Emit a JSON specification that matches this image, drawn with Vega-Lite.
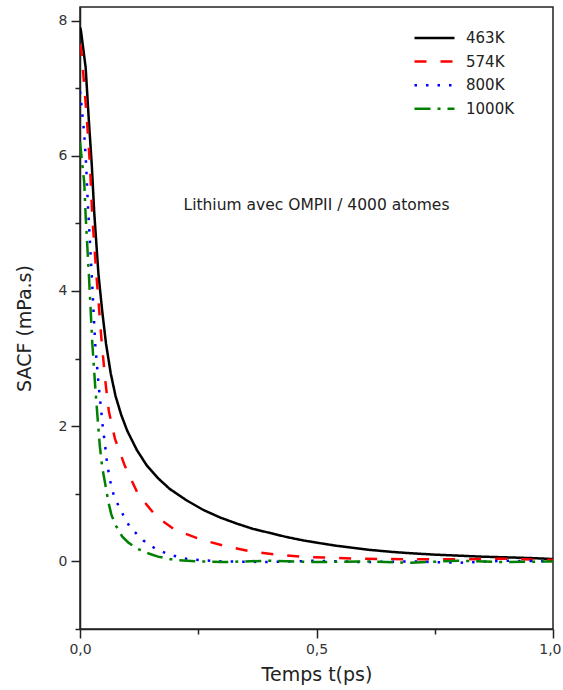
{
  "$schema": "https://vega.github.io/schema/vega-lite/v6.json",
  "width": 473,
  "height": 622,
  "autosize": {"type": "none"},
  "padding": {"left": 80, "top": 7, "right": 10, "bottom": 61},
  "background": "white",
  "config": {
    "view": {"stroke": "#222", "strokeWidth": 1.5},
    "font": "DejaVu Sans",
    "axis": {
      "grid": false,
      "domainColor": "#222", "domainWidth": 1.5,
      "tickColor": "#222", "tickWidth": 1.5,
      "labelFont": "DejaVu Sans", "labelFontSize": 14, "labelColor": "#333",
      "titleFont": "DejaVu Sans", "titleFontSize": 19, "titleFontWeight": "normal", "titleColor": "#222"
    }
  },
  "layer": [
    {
      "data": {
        "values": [
          {"series": "463K", "t": 0, "v": 7.9},
          {"series": "463K", "t": 0.002, "v": 7.85},
          {"series": "463K", "t": 0.012, "v": 7.3},
          {"series": "463K", "t": 0.018, "v": 6.6},
          {"series": "463K", "t": 0.025, "v": 5.85},
          {"series": "463K", "t": 0.03, "v": 5.17},
          {"series": "463K", "t": 0.039, "v": 4.25},
          {"series": "463K", "t": 0.047, "v": 3.7},
          {"series": "463K", "t": 0.055, "v": 3.22},
          {"series": "463K", "t": 0.065, "v": 2.78},
          {"series": "463K", "t": 0.075, "v": 2.45},
          {"series": "463K", "t": 0.087, "v": 2.17},
          {"series": "463K", "t": 0.1, "v": 1.93},
          {"series": "463K", "t": 0.12, "v": 1.65},
          {"series": "463K", "t": 0.141, "v": 1.42},
          {"series": "463K", "t": 0.165, "v": 1.23},
          {"series": "463K", "t": 0.19, "v": 1.07},
          {"series": "463K", "t": 0.226, "v": 0.9},
          {"series": "463K", "t": 0.261, "v": 0.76},
          {"series": "463K", "t": 0.296, "v": 0.65},
          {"series": "463K", "t": 0.331, "v": 0.56},
          {"series": "463K", "t": 0.366, "v": 0.48},
          {"series": "463K", "t": 0.402, "v": 0.42},
          {"series": "463K", "t": 0.437, "v": 0.36},
          {"series": "463K", "t": 0.472, "v": 0.31},
          {"series": "463K", "t": 0.507, "v": 0.27},
          {"series": "463K", "t": 0.543, "v": 0.23},
          {"series": "463K", "t": 0.578, "v": 0.2},
          {"series": "463K", "t": 0.613, "v": 0.17},
          {"series": "463K", "t": 0.66, "v": 0.14},
          {"series": "463K", "t": 0.7, "v": 0.12},
          {"series": "463K", "t": 0.75, "v": 0.1},
          {"series": "463K", "t": 0.8, "v": 0.085},
          {"series": "463K", "t": 0.85, "v": 0.07},
          {"series": "463K", "t": 0.9, "v": 0.06},
          {"series": "463K", "t": 0.95, "v": 0.05},
          {"series": "463K", "t": 1.0, "v": 0.035},

          {"series": "574K", "t": 0, "v": 7.65},
          {"series": "574K", "t": 0.003, "v": 7.55},
          {"series": "574K", "t": 0.014, "v": 6.6},
          {"series": "574K", "t": 0.021, "v": 5.87},
          {"series": "574K", "t": 0.026, "v": 5.1},
          {"series": "574K", "t": 0.035, "v": 4.21},
          {"series": "574K", "t": 0.046, "v": 3.23},
          {"series": "574K", "t": 0.054, "v": 2.64},
          {"series": "574K", "t": 0.061, "v": 2.22},
          {"series": "574K", "t": 0.074, "v": 1.81},
          {"series": "574K", "t": 0.095, "v": 1.41},
          {"series": "574K", "t": 0.123, "v": 0.99},
          {"series": "574K", "t": 0.162, "v": 0.66},
          {"series": "574K", "t": 0.2, "v": 0.47},
          {"series": "574K", "t": 0.257, "v": 0.32},
          {"series": "574K", "t": 0.31, "v": 0.22},
          {"series": "574K", "t": 0.36, "v": 0.15},
          {"series": "574K", "t": 0.416, "v": 0.1},
          {"series": "574K", "t": 0.48, "v": 0.065},
          {"series": "574K", "t": 0.59, "v": 0.04},
          {"series": "574K", "t": 0.7, "v": 0.03},
          {"series": "574K", "t": 0.8, "v": 0.03},
          {"series": "574K", "t": 0.9, "v": 0.04},
          {"series": "574K", "t": 1.0, "v": 0.02},

          {"series": "800K", "t": 0, "v": 6.95},
          {"series": "800K", "t": 0.0015, "v": 6.86},
          {"series": "800K", "t": 0.0085, "v": 6.36},
          {"series": "800K", "t": 0.013, "v": 5.87},
          {"series": "800K", "t": 0.0165, "v": 5.3},
          {"series": "800K", "t": 0.025, "v": 4.21},
          {"series": "800K", "t": 0.032, "v": 3.23},
          {"series": "800K", "t": 0.039, "v": 2.64},
          {"series": "800K", "t": 0.048, "v": 2.0},
          {"series": "800K", "t": 0.053, "v": 1.72},
          {"series": "800K", "t": 0.057, "v": 1.47},
          {"series": "800K", "t": 0.063, "v": 1.21},
          {"series": "800K", "t": 0.072, "v": 0.96},
          {"series": "800K", "t": 0.088, "v": 0.73},
          {"series": "800K", "t": 0.106, "v": 0.5},
          {"series": "800K", "t": 0.134, "v": 0.31},
          {"series": "800K", "t": 0.159, "v": 0.19},
          {"series": "800K", "t": 0.189, "v": 0.1},
          {"series": "800K", "t": 0.23, "v": 0.03},
          {"series": "800K", "t": 0.3, "v": 0.0},
          {"series": "800K", "t": 0.4, "v": -0.01},
          {"series": "800K", "t": 0.5, "v": 0.01},
          {"series": "800K", "t": 0.6, "v": -0.01},
          {"series": "800K", "t": 0.7, "v": 0.0},
          {"series": "800K", "t": 0.8, "v": -0.02},
          {"series": "800K", "t": 0.9, "v": 0.01},
          {"series": "800K", "t": 1.0, "v": 0.0},

          {"series": "1000K", "t": 0, "v": 6.2},
          {"series": "1000K", "t": 0.009, "v": 5.6},
          {"series": "1000K", "t": 0.012, "v": 5.1},
          {"series": "1000K", "t": 0.019, "v": 4.21},
          {"series": "1000K", "t": 0.026, "v": 3.23},
          {"series": "1000K", "t": 0.033, "v": 2.5},
          {"series": "1000K", "t": 0.038, "v": 2.05},
          {"series": "1000K", "t": 0.042, "v": 1.7},
          {"series": "1000K", "t": 0.047, "v": 1.39},
          {"series": "1000K", "t": 0.055, "v": 1.08},
          {"series": "1000K", "t": 0.06, "v": 0.88},
          {"series": "1000K", "t": 0.066, "v": 0.7},
          {"series": "1000K", "t": 0.074, "v": 0.55},
          {"series": "1000K", "t": 0.089, "v": 0.37},
          {"series": "1000K", "t": 0.102, "v": 0.28},
          {"series": "1000K", "t": 0.12, "v": 0.19},
          {"series": "1000K", "t": 0.148, "v": 0.11},
          {"series": "1000K", "t": 0.165, "v": 0.07},
          {"series": "1000K", "t": 0.2, "v": 0.02},
          {"series": "1000K", "t": 0.25, "v": 0.0},
          {"series": "1000K", "t": 0.3, "v": -0.01},
          {"series": "1000K", "t": 0.4, "v": 0.01},
          {"series": "1000K", "t": 0.5, "v": -0.01},
          {"series": "1000K", "t": 0.6, "v": 0.0},
          {"series": "1000K", "t": 0.7, "v": -0.02},
          {"series": "1000K", "t": 0.8, "v": 0.01},
          {"series": "1000K", "t": 0.9, "v": -0.01},
          {"series": "1000K", "t": 1.0, "v": 0.0}
        ]
      },
      "mark": {"type": "line", "strokeWidth": 2.5, "strokeCap": "butt", "clip": true},
      "encoding": {
        "x": {
          "field": "t", "type": "quantitative",
          "scale": {"domain": [0, 1], "nice": false, "zero": false},
          "axis": {
            "title": "Temps t(ps)",
            "values": [0, 0.25, 0.5, 0.75, 1],
            "labelExpr": "(datum.value * 4) % 2 == 0 ? replace(format(datum.value, '.1f'), '.', ',') : ''",
            "labelFlush": false,
            "labelAlign": {"condition": {"test": "datum.value == 1", "value": "right"}, "value": "center"},
            "labelOffset": {"condition": {"test": "datum.value == 1", "value": 8}, "value": 0},
            "tickSize": {"condition": {"test": "(datum.value * 4) % 2 != 0", "value": 5}, "value": 9},
            "labelPadding": 4,
            "titlePadding": 9
          }
        },
        "y": {
          "field": "v", "type": "quantitative",
          "scale": {"domain": [-1, 8.2], "nice": false, "zero": false},
          "axis": {
            "title": "SACF (mPa.s)",
            "titleY": 321,
            "values": [-1, 0, 1, 2, 3, 4, 5, 6, 7, 8],
            "labelExpr": "datum.value % 2 == 0 ? format(datum.value, 'd') : ''",
            "tickSize": {"condition": {"test": "datum.value % 2 != 0", "value": 5}, "value": 9},
            "labelPadding": 4,
            "titlePadding": 24
          }
        },
        "color": {
          "field": "series", "type": "nominal",
          "scale": {"domain": ["463K", "574K", "800K", "1000K"], "range": ["#000000", "#ff0000", "#0000ff", "#008000"]},
          "legend": {
            "title": null, "orient": "none", "legendX": 333, "legendY": 23.5,
            "symbolType": "stroke", "symbolSize": 1600, "symbolStrokeWidth": 2.5,
            "labelFont": "DejaVu Sans", "labelFontSize": 15, "labelColor": "#222",
            "labelOffset": 10, "rowPadding": 7.6, "clipHeight": 15, "padding": 0
          }
        },
        "strokeDash": {
          "field": "series", "type": "nominal",
          "scale": {"domain": ["463K", "574K", "800K", "1000K"], "range": [[1, 0], [12, 14], [2.5, 9], [16, 7, 3, 7]]},
          "legend": {
            "title": null, "orient": "none", "legendX": 333, "legendY": 23.5,
            "symbolType": "stroke", "symbolSize": 1600, "symbolStrokeWidth": 2.5,
            "labelFont": "DejaVu Sans", "labelFontSize": 15, "labelColor": "#222",
            "labelOffset": 10, "rowPadding": 7.6, "clipHeight": 15, "padding": 0
          }
        }
      }
    },
    {
      "mark": {"type": "rule", "color": "#111", "strokeWidth": 1.2},
      "encoding": {
        "y": {"datum": 0, "type": "quantitative"}
      }
    },
    {
      "data": {"values": [{"label": "Lithium avec OMPII / 4000 atomes", "t": 0.5, "v": 5.27}]},
      "mark": {"type": "text", "font": "DejaVu Sans", "fontSize": 15.5, "color": "#222"},
      "encoding": {
        "x": {"field": "t", "type": "quantitative"},
        "y": {"field": "v", "type": "quantitative"},
        "text": {"field": "label"}
      }
    }
  ]
}
